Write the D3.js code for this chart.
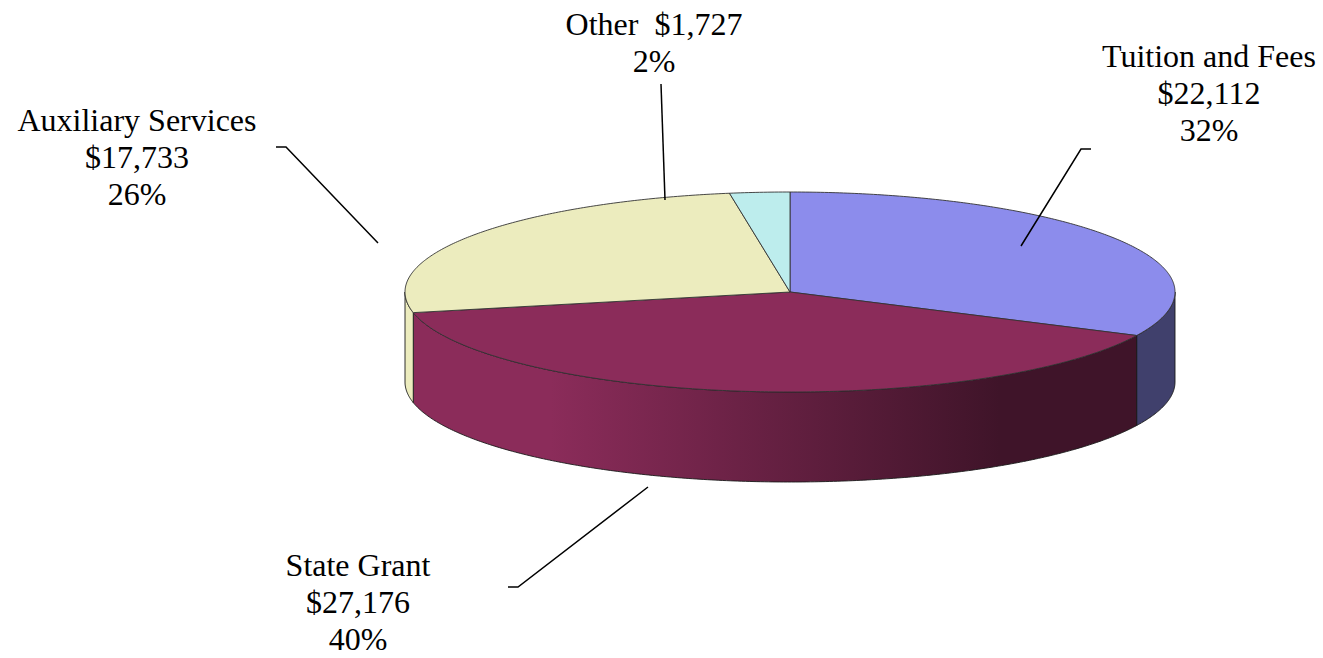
<!DOCTYPE html>
<html>
<head>
<meta charset="utf-8">
<script src="https://cdn.jsdelivr.net/npm/d3@7"></script>
<style>
  body { margin: 0; background: #fff; }
  text { font-family: "Liberation Serif", "Times New Roman", serif; font-size: 32px; fill: #000; }
</style>
</head>
<body>
<div id="chart"></div>
<script>
// data
var categories = ["Tuition and Fees", "State Grant", "Auxiliary Services", "Other"];
var values     = [22112, 27176, 17733, 1727];
var amountLabels  = ["$22,112", "$27,176", "$17,733", "$1,727"];
var percentLabels = ["32%", "40%", "26%", "2%"];

// look
var topColors = ["#8c8cec", "#8b2c5a", "#ececbe", "#bdeded"];

var width  = 1323,
    height = 658,
    cx     = 790,
    cy     = 292,
    rx     = 385,
    ry     = 100,
    depth  = 90;

// label layout: center x, first baseline, leader polyline
var labelLayout = [
  { x: 1209, y: 67,  lines: "stack", leader: [[1021, 246], [1081, 149], [1091, 149]] },
  { x: 358,  y: 576, lines: "stack", leader: [[648, 487], [518, 587], [508, 587]] },
  { x: 137,  y: 131, lines: "stack", leader: [[378, 243], [286, 147], [276, 147]] },
  { x: 654,  y: 35,  lines: "inline", leader: [[665, 200], [661, 84]] }
];

var lineGap = 37;

var svg = d3.select("#chart").append("svg")
    .attr("width", width)
    .attr("height", height);

var defs = svg.append("defs");

// ellipse scales: unit circle -> screen
var xs = d3.scaleLinear().domain([-1, 1]).range([cx - rx, cx + rx]);
var ys = d3.scaleLinear().domain([-1, 1]).range([cy - ry, cy + ry]);

function pt(a, dy) {
  return [xs(Math.sin(a)), ys(-Math.cos(a)) + (dy || 0)];
}

function arcPoints(a0, a1, dy) {
  var n = Math.max(2, Math.ceil((a1 - a0) / 0.01));
  var pts = [];
  for (var i = 0; i <= n; i++) pts.push(pt(a0 + (a1 - a0) * i / n, dy));
  return pts;
}

var pie = d3.pie().sort(null).value(function(d) { return d; });
var arcs = pie(values);

// side shading: lit on the left, darker to the right
arcs.forEach(function(d, i) {
  var base = d3.rgb(topColors[i]);
  var g = defs.append("linearGradient")
      .attr("id", "side" + i)
      .attr("gradientUnits", "userSpaceOnUse")
      .attr("x1", 550).attr("y1", 0)
      .attr("x2", 1000).attr("y2", 0);
  g.append("stop").attr("offset", 0).attr("stop-color", base.formatHex());
  g.append("stop").attr("offset", 1).attr("stop-color", base.darker(2.2).formatHex());
});

var line = d3.line();

// front walls (only the part between 90° and 270° faces the viewer)
var sides = svg.append("g");
arcs.forEach(function(d, i) {
  var s = Math.max(d.startAngle, Math.PI / 2),
      e = Math.min(d.endAngle, Math.PI * 1.5);
  if (e <= s) return;
  var topEdge = arcPoints(s, e, 0);
  var botEdge = arcPoints(s, e, depth).reverse();
  sides.append("path")
      .attr("d", line(topEdge.concat(botEdge)) + "Z")
      .attr("fill", "url(#side" + i + ")")
      .attr("stroke", "#1a1a1a")
      .attr("stroke-width", 0.9)
      .attr("stroke-linejoin", "round");
});

// top faces
var tops = svg.append("g");
arcs.forEach(function(d, i) {
  var pts = [[cx, cy]].concat(arcPoints(d.startAngle, d.endAngle, 0));
  tops.append("path")
      .attr("d", line(pts) + "Z")
      .attr("fill", topColors[i])
      .attr("stroke", "#333")
      .attr("stroke-width", 0.9)
      .attr("stroke-linejoin", "round");
});

// leader lines
var leaders = svg.append("g");
labelLayout.forEach(function(l) {
  leaders.append("path")
      .attr("d", line(l.leader))
      .attr("fill", "none")
      .attr("stroke", "#000")
      .attr("stroke-width", 1.5);
});

// labels
var labels = svg.append("g").attr("text-anchor", "middle");
categories.forEach(function(c, i) {
  var l = labelLayout[i];
  var rows = l.lines === "inline"
      ? [c + "\u00a0\u00a0" + amountLabels[i], percentLabels[i]]
      : [c, amountLabels[i], percentLabels[i]];
  rows.forEach(function(r, k) {
    labels.append("text")
        .attr("x", l.x)
        .attr("y", l.y + k * lineGap)
        .text(r);
  });
});
</script>
</body>
</html>
